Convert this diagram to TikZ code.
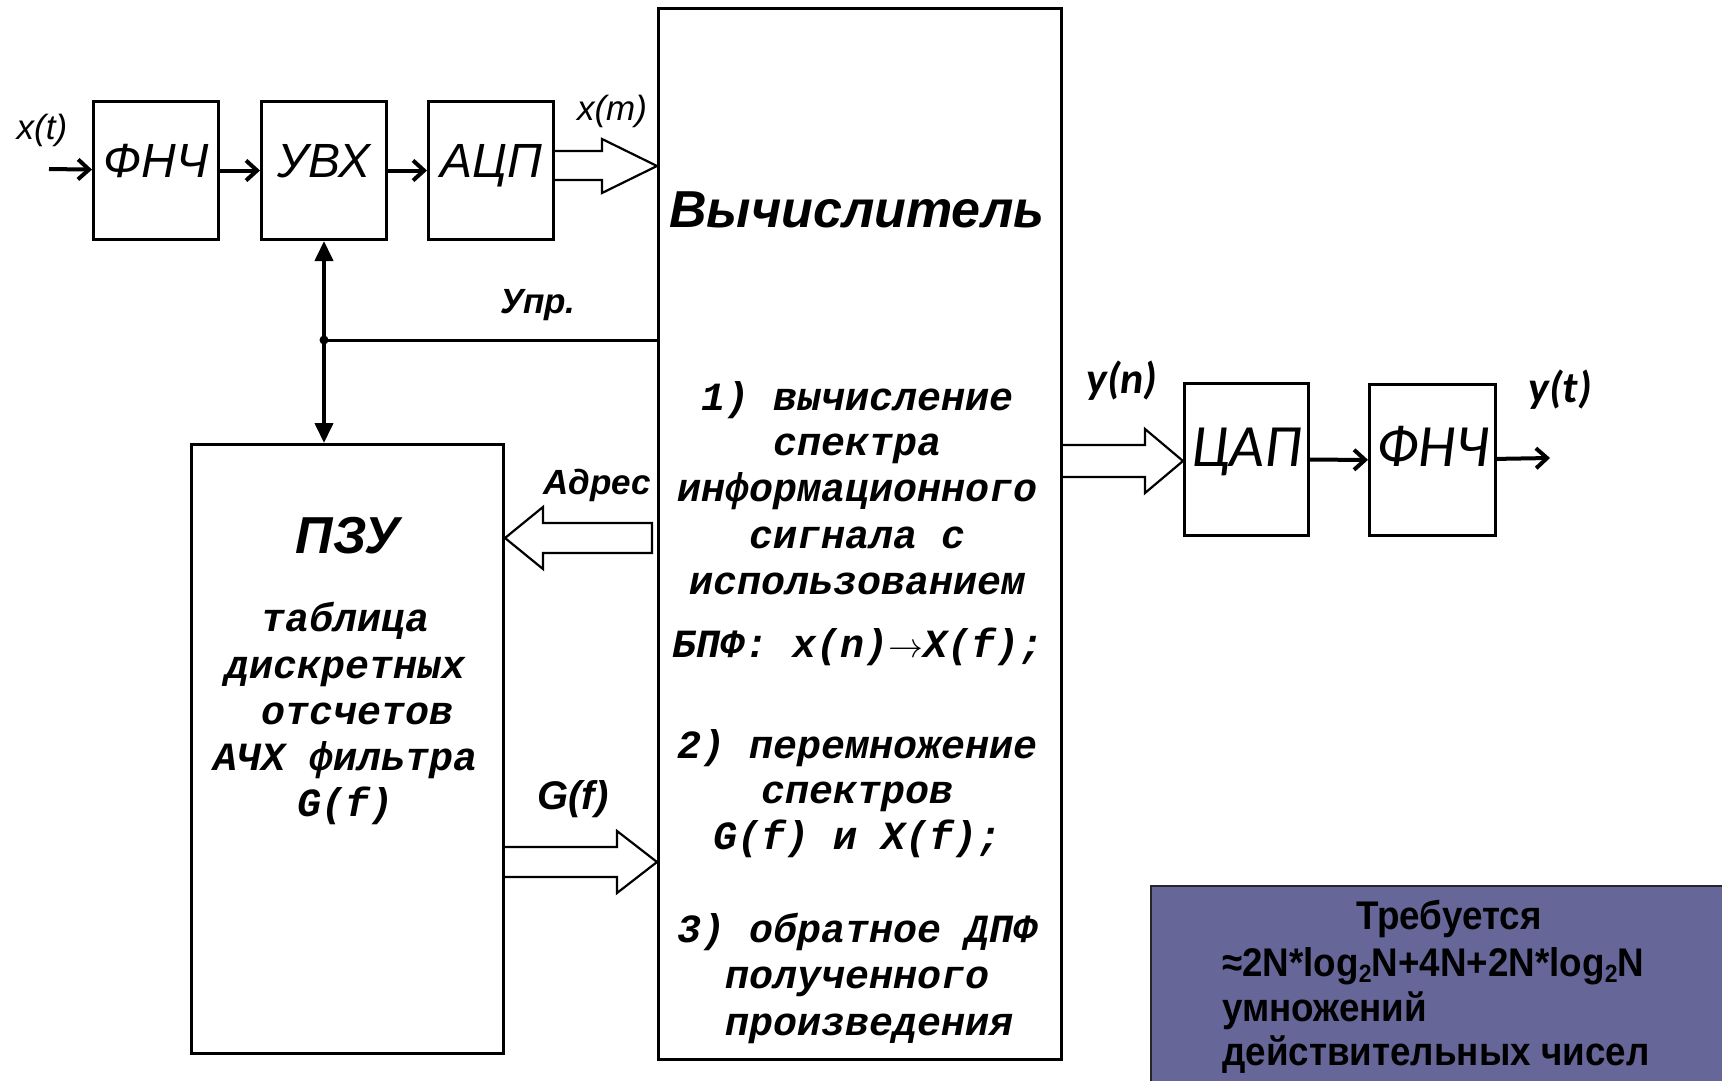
\documentclass[tikz,border=0pt]{standalone}
\usepackage{fontspec}
\setmainfont{Liberation Sans}
\newfontfamily\monofnt{Liberation Mono}
\newfontfamily\calfnt{Carlito}
\usetikzlibrary{arrows.meta,calc}
\definecolor{noteblue}{HTML}{666699}
\newcommand\setfs[1]{\fontsize{#1}{#1}\selectfont}
\newcommand\lowsub[1]{\raisebox{-0.3ex}{\setfs{25}#1}}
\newcommand\narrowtxt[1]{\scalebox{0.92}[1]{#1}}
\newcommand\longarrow{\makebox[35pt]{\scalebox{1.4}{\setfs{24}$\rightarrow$}}}
\begin{document}
\begin{tikzpicture}[x=1pt,y=-1pt,
  blk/.style={draw, line width=3pt, inner sep=0pt},
  lbox/.style={font=\setfs{48}\itshape, text height=34pt, text depth=21pt},
  rbox/.style={font=\calfnt\setfs{60}\itshape, text height=39pt, text depth=26pt},
  big/.style={font=\setfs{52}\bfseries\itshape, inner sep=0pt, anchor=base},
  lab/.style={font=\setfs{35}\bfseries\itshape, inner sep=0pt, anchor=base},
  labr/.style={font=\setfs{35}\itshape, inner sep=0pt, anchor=base},
  calab/.style={font=\calfnt\setfs{44}\bfseries\itshape, inner sep=0pt, anchor=base},
  mono/.style={font=\monofnt\setfs{40}\bfseries\itshape, inner sep=0pt, anchor=base},
  notetxt/.style={font=\setfs{40}\bfseries, inner sep=0pt},
  arr/.style={line width=4pt, -{Straight Barb[length=11pt,width=20pt]}},
  dblarr/.style={line width=4pt, {Triangle[length=20pt,width=18pt]}-{Triangle[length=20pt,width=18pt]}},
  hollow/.style={line width=2.2pt, line join=miter}
]
\clip (0,0) rectangle (1722,1081);
\fill[white] (0,0) rectangle (1722,1081);

% blocks
\node[blk, lbox, minimum width=125pt, minimum height=138pt, anchor=north west] (f1) at (92,100) {ФНЧ};
\node[blk, lbox, minimum width=125pt, minimum height=138pt, anchor=north west] (uvx) at (260,100) {УВХ};
\node[blk, lbox, minimum width=125pt, minimum height=138pt, anchor=north west] (adc) at (427,100) {АЦП};
\node[blk, minimum width=403pt, minimum height=1051pt, anchor=north west] (calc) at (657,7) {};
\node[blk, minimum width=312pt, minimum height=609pt, anchor=north west] (rom) at (190,443) {};
\node[blk, rbox, minimum width=124pt, minimum height=152pt, anchor=north west] (dac) at (1183,382) {ЦАП};
\node[blk, rbox, minimum width=126pt, minimum height=151pt, anchor=north west] (f2) at (1368,383) {ФНЧ};
\node[draw=black!85, line width=2pt, fill=noteblue, minimum width=620pt, minimum height=240pt, anchor=north west] (note) at (1150,885) {};

% titles
\node[big] (calct) at (857,227) {Вычислитель};
\node[big] (romt) at (348,553) {ПЗУ};

% computer text
\foreach \y/\t [count=\i] in {410/{1) вычисление}, 455/спектра, 501/информационного,
  548/{сигнала с}, 594/использованием, 657/{БПФ: x(n)\longarrow X(f);},
  758/{2) перемножение}, 803/спектров, 849/{G(f) и X(f);},
  942/{3) обратное ДПФ}, 988/полученного}
  \node[mono] (m\i) at (858,\y) {\t};
\node[mono] (m12) at (870,1035) {произведения};

% ROM text
\node[mono] (r1) at (346,631) {таблица};
\node[mono] (r2) at (346,678) {дискретных};
\node[mono] (r3) at (358,724) {отсчетов};
\node[mono] (r4) at (346,770) {АЧХ фильтра};
\node[mono] (r5) at (346,816) {G(f)};

% note text
\node[notetxt, anchor=base] (n1) at (1449,929) {\narrowtxt{Требуется}};
\node[notetxt, anchor=base west] (n2) at (1222,976) {\narrowtxt{≈2N*log\lowsub{2}N+4N+2N*log\lowsub{2}N}};
\node[notetxt, anchor=base west] (n3) at (1222,1021) {\narrowtxt{умножений}};
\node[notetxt, anchor=base west] (n4) at (1222,1065) {\narrowtxt{действительных чисел}};

% signal labels
\node[labr] (lxt) at (42,139) {x(t)};
\node[labr] (lxm) at (612,121) {x(m)};
\node[lab] (lupr) at (538,313) {Упр.};
\node[lab] (ladr) at (597,494) {Адрес};
\node[lab, font=\setfs{40}\bfseries\itshape] (lgf) at (573,809) {G(f)};
\node[calab] (lyn) at (1122,393) {y(n)};
\node[calab] (lyt) at (1560,402) {y(t)};

% thin arrows
\coordinate (xin) at (49,169);
\coordinate (yout) at (1550,458);
\draw[arr] (xin) -- (f1);
\draw[arr] (f1) -- (uvx);
\draw[arr] (uvx) -- (adc);
\draw[arr] (dac) -- (f2);
\draw[arr] (f2) -- (yout);

% control line
\coordinate (uprl) at (0,340);
\coordinate (j) at (uvx.south |- uprl);
\draw[line width=3pt] (calc.west |- j) -- (j);
\draw[dblarr] (uvx.south) -- (uvx.south |- rom.north);
\fill (j) circle (4.5pt);

% hollow bus arrows
\draw[hollow] let \p1=(adc.east), \p2=(calc.west) in
  (\x1,151) -- (\x2-55,151) -- (\x2-55,139) -- (\x2,166) -- (\x2-55,193) -- (\x2-55,180) -- (\x1,180);
\draw[hollow] let \p1=(calc.west), \p2=(rom.east) in
  (\x1-5,523) -- (\x2+38,523) -- (\x2+38,507) -- (\x2,538) -- (\x2+38,569) -- (\x2+38,553) -- (\x1-5,553) -- cycle;
\draw[hollow] let \p1=(rom.east), \p2=(calc.west) in
  (\x1,847) -- (\x2-40,847) -- (\x2-40,831) -- (\x2,862) -- (\x2-40,893) -- (\x2-40,877) -- (\x1,877);
\draw[hollow] let \p1=(calc.east), \p2=(dac.west) in
  (\x1,445) -- (\x2-38,445) -- (\x2-38,429) -- (\x2,461) -- (\x2-38,493) -- (\x2-38,477) -- (\x1,477);
\end{tikzpicture}
\end{document}
